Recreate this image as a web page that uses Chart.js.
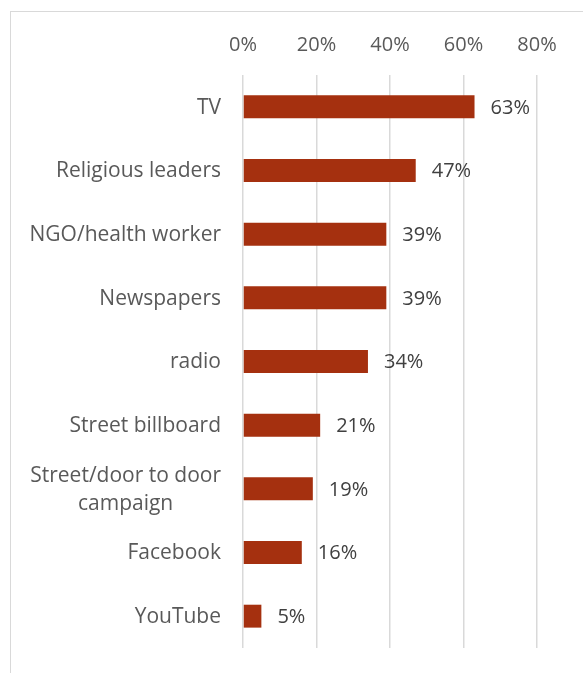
<!DOCTYPE html>
<html>
<head>
<meta charset="utf-8">
<script src="https://cdn.jsdelivr.net/npm/chart.js@4.4.1/dist/chart.umd.min.js"></script>
<style>
  html, body { margin: 0; padding: 0; background: #ffffff; }
  #wrap { position: relative; width: 583px; height: 673px; overflow: hidden; }
  #frame { position: absolute; left: 10px; top: 11px; width: 620px; height: 720px;
           border: 1.5px solid #d9d9d9; box-sizing: border-box; }
  #c { position: absolute; left: 0; top: 0; }
</style>
</head>
<body>
<div id="wrap">
  <div id="frame"></div>
  <canvas id="c" width="583" height="673"></canvas>
</div>
<script>
// Information sources, share of respondents
const categories = [
  'TV',
  'Religious leaders',
  'NGO/health worker',
  'Newspapers',
  'radio',
  'Street billboard',
  ['Street/door to door', 'campaign'],
  'Facebook',
  'YouTube'
];
const shares = [63, 47, 39, 39, 34, 21, 19, 16, 5];
const tickValues = [0, 20, 40, 60, 80];

const FONT = "'Open Sans', sans-serif";

// Writes the percentage just past the end of each bar
const valueLabels = {
  id: 'valueLabels',
  afterDatasetsDraw(chart) {
    const ctx = chart.ctx;
    const meta = chart.getDatasetMeta(0);
    ctx.save();
    ctx.font = '20px ' + FONT;
    ctx.fillStyle = '#404040';
    ctx.textAlign = 'left';
    ctx.textBaseline = 'middle';
    meta.data.forEach((bar, i) => {
      ctx.fillText(shares[i] + '%', bar.x + 16, bar.y + 1);
    });
    ctx.restore();
  }
};

// Category names: right-aligned beside the axis, wrapped lines centred on each other
const categoryLabels = {
  id: 'categoryLabels',
  afterDraw(chart) {
    const ctx = chart.ctx;
    const yScale = chart.scales.y;
    const right = chart.chartArea.left - 22;
    const lineGap = 28;
    ctx.save();
    ctx.font = '21px ' + FONT;
    ctx.fillStyle = '#595959';
    ctx.textBaseline = 'middle';
    categories.forEach((label, i) => {
      const yc = yScale.getPixelForValue(i);
      const lines = Array.isArray(label) ? label : [label];
      const widest = Math.max(...lines.map(l => ctx.measureText(l).width));
      const cx = right - widest / 2;
      const top = yc - (lines.length - 1) * lineGap / 2;
      lines.forEach((line, k) => {
        if (lines.length === 1) {
          ctx.textAlign = 'right';
          ctx.fillText(line, right, top + 1);
        } else {
          ctx.textAlign = 'center';
          ctx.fillText(line, cx, top + k * lineGap + 1);
        }
      });
    });
    ctx.restore();
  }
};

new Chart(document.getElementById('c'), {
  type: 'bar',
  data: {
    labels: categories,
    datasets: [{
      data: shares,
      backgroundColor: '#A5300F',
      borderWidth: 0,
      barPercentage: 0.36,
      categoryPercentage: 1
    }]
  },
  options: {
    indexAxis: 'y',
    responsive: false,
    animation: false,
    layout: { padding: { top: 15, right: 46, bottom: 25, left: 0 } },
    plugins: { legend: { display: false }, tooltip: { enabled: false } },
    scales: {
      x: {
        position: 'top',
        min: 0,
        max: 80,
        afterBuildTicks(scale) { scale.ticks = tickValues.map(v => ({ value: v })); },
        ticks: {
          callback: v => v + '%',
          color: '#595959',
          font: { family: FONT, size: 20 },
          padding: 18
        },
        grid: { color: '#d9d9d9', lineWidth: 1.5, drawTicks: false },
        border: { display: false }
      },
      y: {
        afterFit(scale) { scale.width = 243; },
        ticks: { display: false },
        grid: { display: false, drawTicks: false },
        border: { display: false }
      }
    }
  },
  plugins: [valueLabels, categoryLabels]
});
</script>
</body>
</html>
